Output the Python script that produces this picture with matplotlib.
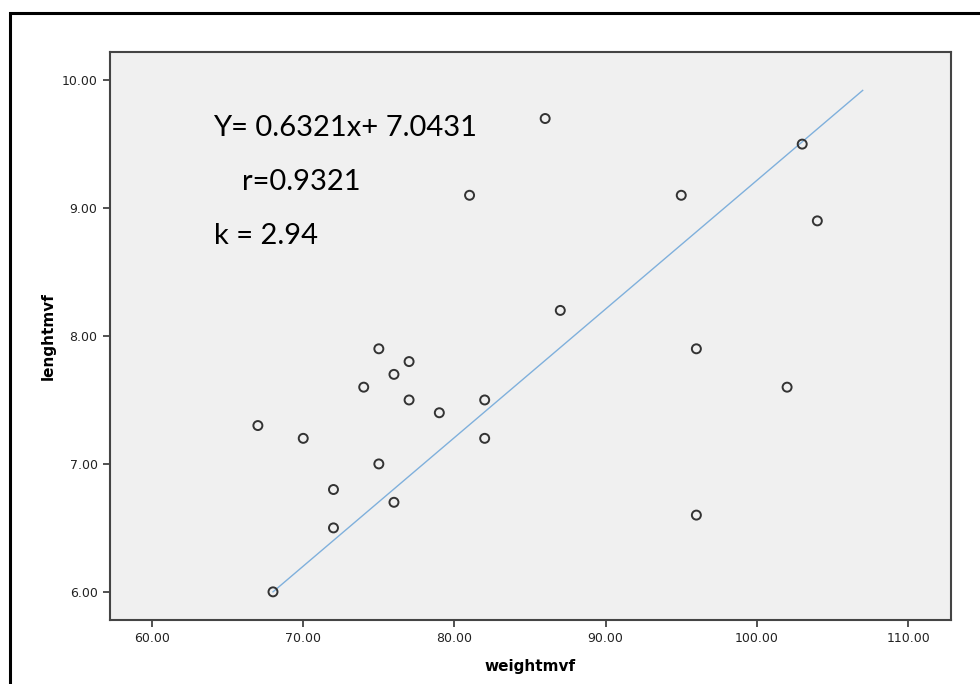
import matplotlib.pyplot as plt
from matplotlib.patches import Rectangle

# Dados
weight = [67, 68, 70, 72, 72, 74, 75, 75, 76, 76, 77, 77, 79, 81, 82, 82,
          86, 87, 95, 96, 96, 102, 103, 104]
length = [7.3, 6.0, 7.2, 6.8, 6.5, 7.6, 7.9, 7.0, 7.7, 6.7, 7.8, 7.5, 7.4, 9.1,
          7.5, 7.2, 9.7, 8.2, 9.1, 7.9, 6.6, 7.6, 9.5, 8.9]

# Linha de ajuste (extremos)
fit_x = [68, 107]
fit_y = [6.0, 9.92]

x_ticks = [60, 70, 80, 90, 100, 110]
y_ticks = [6, 7, 8, 9, 10]

fig = plt.figure(figsize=(9.8, 6.84), dpi=100)
ax = fig.add_axes([110 / 980, 1 - 620 / 684, 841 / 980, 568 / 684])
ax.set_facecolor('#f0f0f0')

ax.plot(fit_x, fit_y, color='#7fb0dc', linewidth=1.0, zorder=2)
ax.scatter(weight, length, s=42, facecolors='none', edgecolors='#333333',
           linewidths=1.4, zorder=3)

ax.set_xlim(57.22, 112.84)
ax.set_ylim(5.78, 10.22)
ax.set_xticks(x_ticks)
ax.set_yticks(y_ticks)
ax.set_xticklabels(['%.2f' % v for v in x_ticks], fontsize=9, color='#222222')
ax.set_yticklabels(['%.2f' % v for v in y_ticks], fontsize=9, color='#222222')
ax.tick_params(direction='out', length=5, width=1.2, color='#333333', pad=4)
for s in ax.spines.values():
    s.set_color('#444444')
    s.set_linewidth(1.5)

ax.set_xlabel('weightmvf', fontsize=11, fontweight='bold', labelpad=10)
ax.set_ylabel('lenghtmvf', fontsize=11, fontweight='bold', labelpad=4)

# Texto da equacao
eq_style = dict(fontsize=21, family='Lato', va='center', ha='left')
fig.text(213 / 980, 1 - 128 / 684, 'Y= 0.6321x+ 7.0431', **eq_style)
fig.text(242 / 980, 1 - 182 / 684, 'r=0.9321', **eq_style)
fig.text(214 / 980, 1 - 236 / 684, 'k = 2.94', **eq_style)

# Borda externa
fig.patches.append(Rectangle((10 / 980, -0.1), 1.2, 1 - 12.7 / 684 + 0.1,
                             transform=fig.transFigure, fill=False,
                             edgecolor='black', linewidth=2.2))

fig.savefig('out.png', dpi=100)
